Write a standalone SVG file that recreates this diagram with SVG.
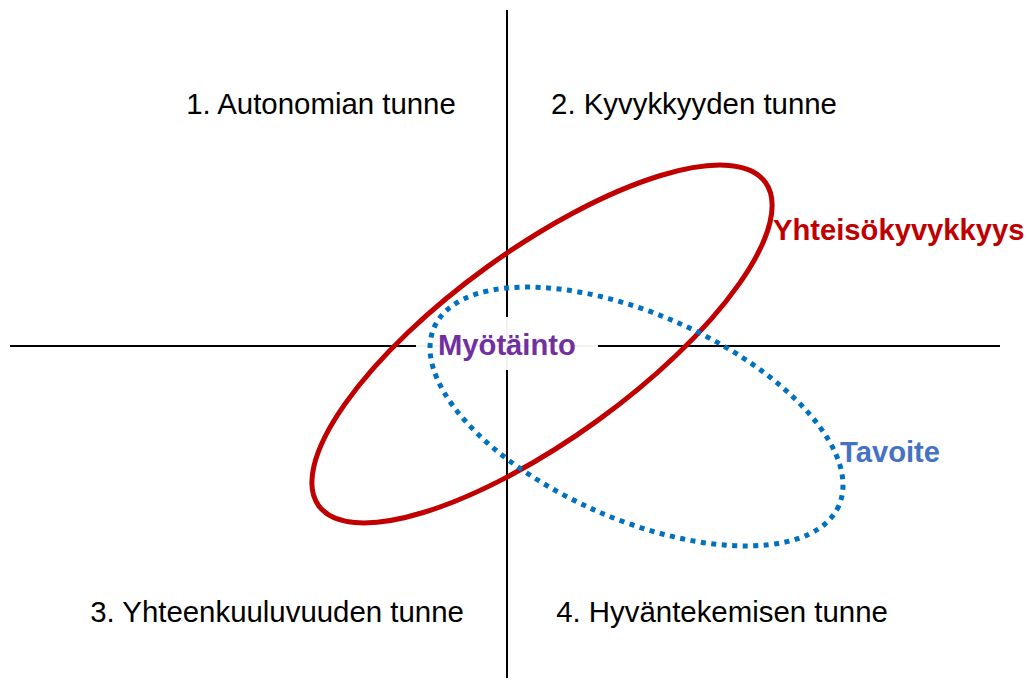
<svg xmlns="http://www.w3.org/2000/svg" width="1029" height="680" viewBox="0 0 1029 680">
<style>
.axis{stroke:#000;stroke-width:2;fill:none}
.q{font-family:"Liberation Sans",Arial,sans-serif;font-size:29.4px;fill:#000;text-anchor:middle}
.b{font-family:"Liberation Sans",Arial,sans-serif;font-size:29.2px;font-weight:bold}
</style>
<rect width="1029" height="680" fill="#fff"/>
<g id="axes">
<line class="axis" x1="507" y1="10" x2="507" y2="678"/>
<line class="axis" x1="10" y1="346" x2="1000" y2="346"/>
</g>
<g id="quadrants">
<text id="q1" class="q" x="321" y="114">1. Autonomian tunne</text>
<text id="q2" class="q" x="694" y="114">2. Kyvykkyyden tunne</text>
<text id="q3" class="q" x="277" y="622">3. Yhteenkuuluvuuden tunne</text>
<text id="q4" class="q" x="722" y="622">4. Hyväntekemisen tunne</text>
</g>
<g id="myotainto-bg">
<rect x="416" y="317" width="182" height="53" fill="#fff" opacity="0.95"/>
</g>
<g id="yhteisokyvykkyys">
<ellipse cx="542" cy="344" rx="275.7" ry="94.6" transform="rotate(-35.9 542 344)" fill="none" stroke="#c00000" stroke-width="5"/>
<text class="b" x="773" y="240" fill="#c00000">Yhteisökyvykkyys</text>
</g>
<g id="tavoite">
<ellipse cx="636.5" cy="416.5" rx="221.1" ry="102.5" transform="rotate(23.8 636.5 416.5)" fill="none" stroke="#0070c0" stroke-width="5" stroke-dasharray="5 5.5"/>
<text class="b" x="840" y="462" fill="#4472c4">Tavoite</text>
</g>
<g id="myotainto">
<text class="b" x="438" y="355" fill="#7030a0">Myötäinto</text>
</g>
</svg>
